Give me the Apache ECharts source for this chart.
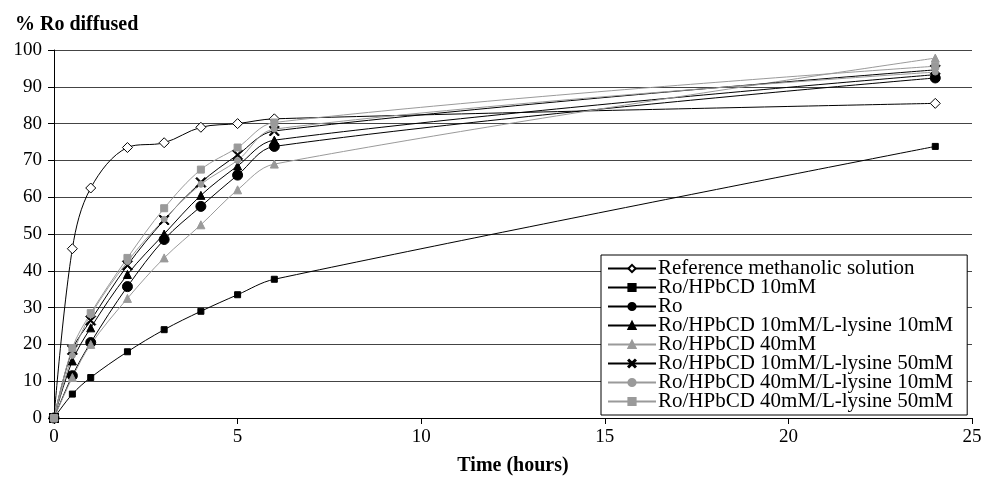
<!DOCTYPE html>
<html><head><meta charset="utf-8">
<script src="https://cdn.jsdelivr.net/npm/echarts@6/dist/echarts.min.js"></script>
<style>html,body{margin:0;padding:0;background:#fff}#c{width:984px;height:479px}</style>
</head><body><div id="c"></div>
<script>
const times = [0, 0.5, 1, 2, 3, 4, 5, 6, 24];
const refMethanolic = [0, 46, 62.5, 73.5, 74.8, 79, 80, 81.3, 85.5];
const hp10 = [0, 6.5, 11, 18, 24, 29, 33.5, 37.7, 73.8];
const ro = [0, 11.5, 20.5, 35.7, 48.5, 57.5, 66, 73.8, 92.4];
const hp10lys10 = [0, 15.5, 24.5, 39, 50, 60.5, 68.5, 75.5, 93.3];
const hp40 = [0, 11, 20, 32.5, 43.5, 52.5, 62, 69, 97.8];
const hp10lys50 = [0, 18.5, 26.5, 41.5, 53.8, 64, 71.5, 78, 94.6];
const hp40lys10 = [0, 17, 28, 42.5, 54, 63.5, 70, 78.5, 94];
const hp40lys50 = [0, 19, 28.5, 43.5, 57, 67.5, 73.5, 80.3, 95.6];
const xTicks = [0, 5, 10, 15, 20, 25];
const yTicks = [0, 10, 20, 30, 40, 50, 60, 70, 80, 90, 100];

const X_PATH = 'path://M0,1 L1,0 L5,4 L9,0 L10,1 L6,5 L10,9 L9,10 L5,6 L1,10 L0,9 L4,5 Z';
const GRAY = '#9a9a9a';
const serif = '"Liberation Serif", "DejaVu Serif", serif';

function mk(name, vals, color, symbol, size, fill) {
  return {
    name, type: 'line', smooth: 0.35,
    data: vals.map((v, i) => [times[i], v]),
    symbol, symbolSize: size,
    lineStyle: { color, width: 1 },
    itemStyle: { color: fill || color, borderColor: color, borderWidth: 1 },
    z: 3
  };
}

const series = [
  mk('Reference methanolic solution', refMethanolic, '#000', 'diamond', 10, '#fff'),
  mk('Ro/HPbCD 10mM', hp10, '#000', 'rect', 6),
  mk('Ro', ro, '#000', 'circle', 10),
  mk('Ro/HPbCD 10mM/L-lysine 10mM', hp10lys10, '#000', 'triangle', 8),
  mk('Ro/HPbCD 40mM', hp40, GRAY, 'triangle', 8),
  mk('Ro/HPbCD 10mM/L-lysine 50mM', hp10lys50, '#000', X_PATH, 10),
  mk('Ro/HPbCD 40mM/L-lysine 10mM', hp40lys10, GRAY, 'circle', 6),
  mk('Ro/HPbCD 40mM/L-lysine 50mM', hp40lys50, GRAY, 'rect', 7)
];

const chart = echarts.init(document.getElementById('c'));
chart.setOption({
  animation: false,
  backgroundColor: '#fff',
  title: {
    text: '% Ro diffused', left: 10, top: 10,
    textStyle: { fontFamily: serif, fontSize: 20, fontWeight: 'bold', color: '#000' }
  },
  grid: { left: 54, right: 12, top: 50, bottom: 61, outerBoundsMode: 'none', containLabel: false },
  legend: {
    orient: 'vertical', left: 601, top: 255,
    backgroundColor: '#fff', borderColor: '#000', borderWidth: 1,
    padding: [3, 14, 3, 6], itemGap: -2, itemWidth: 48, itemHeight: 9,
    textStyle: { fontFamily: serif, fontSize: 21, color: '#000', padding: [0, 0, 0, -3] },
    data: series.map(s => s.name)
  },
  xAxis: {
    type: 'value', min: 0, max: 25, interval: 5,
    name: 'Time (hours)', nameLocation: 'middle', nameGap: 38,
    nameTextStyle: { fontFamily: serif, fontSize: 20, fontWeight: 'bold', color: '#000' },
    axisLine: { show: true, lineStyle: { color: '#000', width: 1 } },
    axisTick: { show: true, inside: false, length: 6, lineStyle: { color: '#000' } },
    axisLabel: { fontFamily: serif, fontSize: 19, color: '#000', margin: 10,
      formatter: v => xTicks.includes(v) ? String(v) : '' },
    splitLine: { show: false }
  },
  yAxis: {
    type: 'value', min: 0, max: 100, interval: 10,
    axisLine: { show: true, lineStyle: { color: '#000', width: 1 } },
    axisTick: { show: true, inside: false, length: 6, lineStyle: { color: '#000' } },
    axisLabel: { fontFamily: serif, fontSize: 19, color: '#000', margin: 12,
      formatter: v => yTicks.includes(v) ? String(v) : '' },
    splitLine: { show: true, lineStyle: { color: '#444', width: 1 } }
  },
  series
});
</script></body></html>
